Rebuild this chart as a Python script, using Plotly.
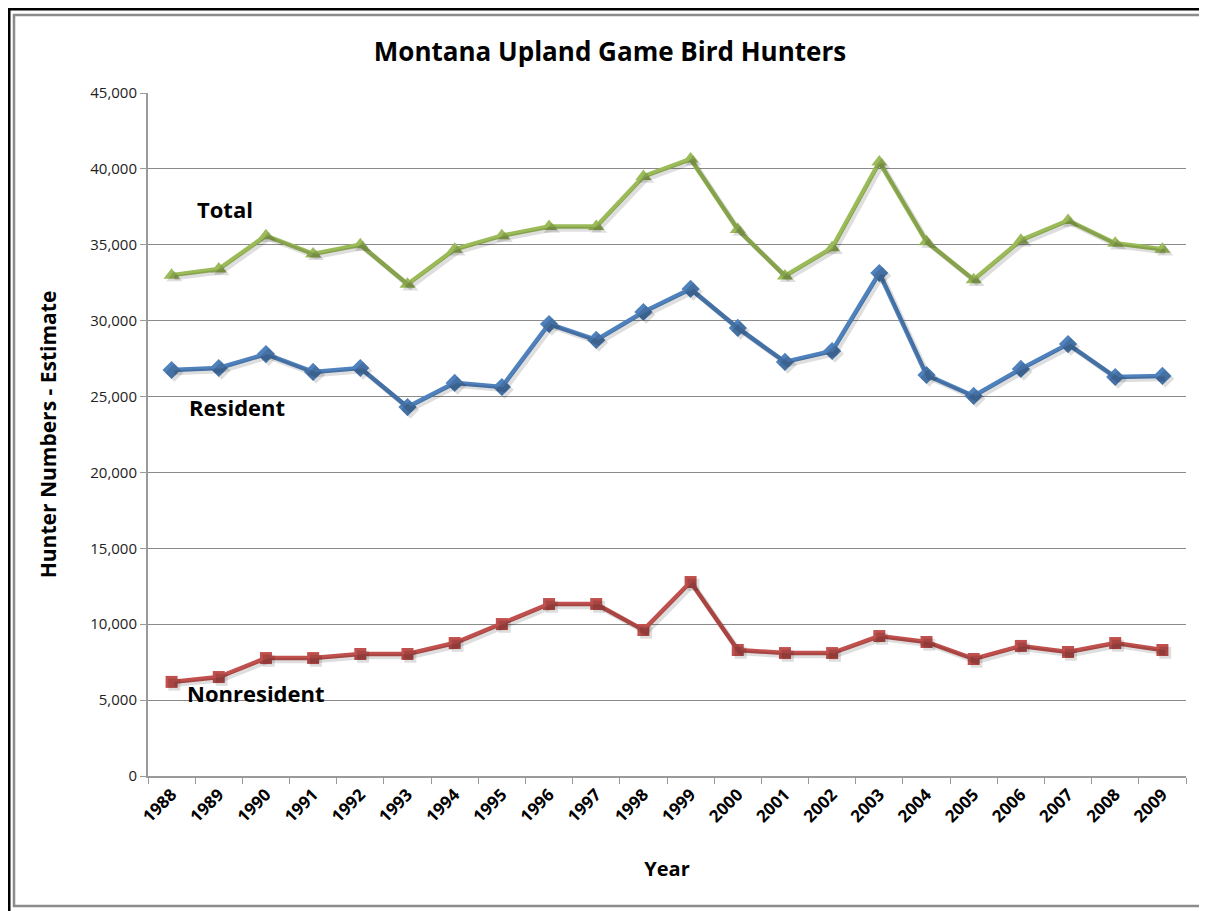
import plotly.graph_objects as go

years = [str(y) for y in range(1988, 2010)]

total = [33000, 33400, 35600, 34400, 35000, 32400, 34700, 35600, 36200, 36200, 39500,
         40650, 36000, 32950, 34800, 40450, 35200, 32700, 35300, 36600, 35100, 34700]
resident = [26750, 26880, 27800, 26620, 26880, 24310, 25900, 25630, 29780, 28730, 30570,
            32090, 29520, 27280, 28000, 33140, 26420, 25040, 26820, 28460, 26290, 26360]
nonresident = [6200, 6520, 7770, 7770, 8040, 8040, 8760, 10010, 11330, 11330, 9620,
               12780, 8300, 8100, 8100, 9220, 8830, 7710, 8570, 8170, 8760, 8300]

y_ticks = list(range(0, 45001, 5000))
y_labels = [f"{v:,}" for v in y_ticks]

GREEN = "#9BBB59"
BLUE = "#4F81BD"
RED = "#C0504D"
FONT = "Open Sans"

series = [
    ("Total", total, GREEN, "triangle-up", 14),
    ("Resident", resident, BLUE, "diamond", 14),
    ("Nonresident", nonresident, RED, "square", 12),
]

# the page body adds an 8px margin, so the figure is drawn 8px in from the window edge
W, H = 1199, 903
L, R, T, B = 140, 21, 85, 135
PW, PH = W - L - R, H - T - B


def px(x):
    return (x - L) / PW


def py(y):
    return (H - B - y) / PH


fig = go.Figure()

# soft drop shadow: same data on a hidden axis pair shifted a few pixels down-right
for name, vals, color, sym, size in series:
    fig.add_trace(go.Scatter(
        x=years, y=vals, mode="lines+markers", xaxis="x2", yaxis="y2",
        line=dict(color="rgba(0,0,0,0.13)", width=5),
        marker=dict(symbol=sym, size=size, color="rgba(0,0,0,0.13)"),
        showlegend=False, hoverinfo="skip",
    ))

for name, vals, color, sym, size in series:
    fig.add_trace(go.Scatter(
        x=years, y=vals, mode="lines+markers", name=name,
        line=dict(color=color, width=4.5),
        marker=dict(symbol=sym, size=size, color=color),
        showlegend=False,
    ))

# series labels
labels = [("Total", 1.13, 37350), ("Resident", 1.39, 24300), ("Nonresident", 1.79, 5470)]
for text, xp, yp in labels:
    fig.add_annotation(x=xp, y=yp, xref="x", yref="y", text=f"<b>{text}</b>",
                       showarrow=False, font=dict(family=FONT, size=22, color="black"))

# frame around the chart
fig.add_shape(type="rect", xref="paper", yref="paper",
              x0=px(6), x1=px(1195), y0=py(898), y1=py(7),
              line=dict(color="#8c8c8c", width=2.5))
fig.add_shape(type="line", xref="paper", yref="paper",
              x0=px(0), x1=px(W), y0=py(1), y1=py(1),
              line=dict(color="black", width=3))
fig.add_shape(type="line", xref="paper", yref="paper",
              x0=px(1), x1=px(1), y0=py(H), y1=py(0),
              line=dict(color="black", width=3))

fig.update_layout(
    width=W, height=H,
    margin=dict(l=L, r=R, t=T, b=B),
    paper_bgcolor="white", plot_bgcolor="white",
    font=dict(family=FONT, color="#222222"),
    title=dict(text="<b>Montana Upland Game Bird Hunters</b>", xref="container",
               x=602 / W, xanchor="center", y=1 - 44 / H, yanchor="middle",
               font=dict(family=FONT, size=26, color="black")),
    xaxis=dict(
        type="category", range=[-0.5, 21.5],
        showgrid=False, showline=True, linecolor="#9a9a9a", linewidth=2,
        ticks="outside", tickson="boundaries", ticklen=6, tickcolor="#9a9a9a",
        tickangle=-45, tickfont=dict(family=FONT, size=17, color="black", weight="bold"),
        title=dict(text="<b>Year</b>", font=dict(family=FONT, size=20, color="black"),
                   standoff=36),
    ),
    yaxis=dict(
        range=[0, 45000], tickvals=y_ticks, ticktext=y_labels,
        showgrid=True, gridcolor="#8a8a8a", gridwidth=1,
        showline=True, linecolor="#9a9a9a", linewidth=2,
        ticks="outside", ticklen=6, tickcolor="#9a9a9a",
        tickfont=dict(family=FONT, size=15, color="#222222"),
        title=dict(text="<b>Hunter Numbers - Estimate</b>",
                   font=dict(family=FONT, size=21, color="black"), standoff=28),
        zeroline=False,
    ),
    xaxis2=dict(type="category", range=[-0.56, 21.44], overlaying="x", visible=False),
    yaxis2=dict(range=[180, 45180], overlaying="y", visible=False),
)

fig.write_html("out.html")
